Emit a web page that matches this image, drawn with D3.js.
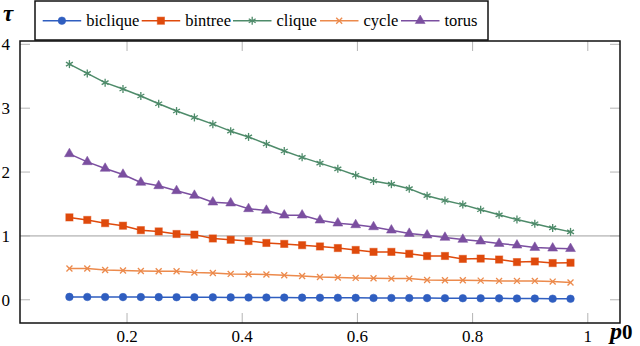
<!DOCTYPE html>
<html>
<head>
<meta charset="utf-8">
<script src="https://cdn.jsdelivr.net/npm/d3@7"></script>
<style>
  body { margin: 0; background: #fff; }
  svg { display: block; }
  svg text { font-family: "Liberation Serif", "Times New Roman", "DejaVu Serif", serif; }
</style>
</head>
<body>
<svg width="640" height="346"></svg>
<script>
// p0 values (x)
const p0 = [0.1, 0.131, 0.162, 0.193, 0.224, 0.255, 0.286, 0.317, 0.349, 0.380,
  0.411, 0.442, 0.473, 0.504, 0.535, 0.566, 0.597, 0.628, 0.659, 0.690,
  0.721, 0.752, 0.783, 0.814, 0.846, 0.877, 0.908, 0.939, 0.97]

const biclique = [0.045, 0.044, 0.043, 0.042, 0.042, 0.041, 0.040, 0.039, 0.038, 0.037,
  0.036, 0.035, 0.034, 0.033, 0.032, 0.031, 0.030, 0.029, 0.028, 0.027,
  0.026, 0.025, 0.024, 0.023, 0.022, 0.020, 0.019, 0.017, 0.016]
const bintree = [1.29, 1.25, 1.20, 1.16, 1.09, 1.07, 1.03, 1.02, 0.96, 0.94,
  0.92, 0.89, 0.875, 0.855, 0.835, 0.81, 0.78, 0.75, 0.75, 0.72,
  0.685, 0.686, 0.64, 0.645, 0.63, 0.59, 0.60, 0.575, 0.58]
const clique = [3.69, 3.545, 3.40, 3.30, 3.19, 3.07, 2.955, 2.855, 2.75, 2.64,
  2.55, 2.44, 2.33, 2.23, 2.14, 2.05, 1.95, 1.86, 1.81, 1.74,
  1.63, 1.555, 1.49, 1.41, 1.33, 1.257, 1.19, 1.125, 1.063]
const cycle = [0.489, 0.489, 0.467, 0.458, 0.451, 0.447, 0.447, 0.426, 0.42, 0.405,
  0.40, 0.395, 0.384, 0.373, 0.357, 0.348, 0.342, 0.337, 0.332, 0.332,
  0.31, 0.306, 0.306, 0.30, 0.295, 0.295, 0.295, 0.285, 0.27]
const torus = [2.285, 2.16, 2.056, 1.962, 1.837, 1.784, 1.706, 1.633, 1.528, 1.513,
  1.424, 1.398, 1.324, 1.324, 1.246, 1.199, 1.173, 1.141, 1.089, 1.037,
  1.011, 0.975, 0.944, 0.917, 0.88, 0.854, 0.818, 0.807, 0.80]

const xTicks = [0.2, 0.4, 0.6, 0.8, 1]
const yTicks = [0, 1, 2, 3, 4]
const refLine = 1

const series = [
  { name: 'biclique', values: biclique, color: '#2f5ec0', marker: 'circle' },
  { name: 'bintree', values: bintree, color: '#df4a0c', marker: 'square' },
  { name: 'clique', values: clique, color: '#4e8b6a', marker: 'asterisk' },
  { name: 'cycle', values: cycle, color: '#ec8a4c', marker: 'cross' },
  { name: 'torus', values: torus, color: '#7b4fa0', marker: 'triangle' }
]

const margin = { left: 20, right: 20, top: 41, bottom: 23 }
const width = 640
const height = 346

const svg = d3.select('svg')

// pgfplots-like enlarged limits
const x = d3.scaleLinear().domain([0.0142, 1.0559]).range([margin.left, width - margin.right])
const y = d3.scaleLinear().domain([-0.3636, 4.052]).range([height - margin.bottom, margin.top])

const plot = svg.append('g')

// reference line at tau = 1
plot.append('line')
  .attr('x1', x.range()[0]).attr('x2', x.range()[1])
  .attr('y1', y(refLine)).attr('y2', y(refLine))
  .attr('stroke', '#c8c8c8')
  .attr('stroke-width', 1.6)

// inner ticks on all four sides
const tickLen = 10
const tickColor = '#b4b4b4'
xTicks.forEach(function (t) {
  plot.append('line')
    .attr('x1', x(t)).attr('x2', x(t))
    .attr('y1', y.range()[0]).attr('y2', y.range()[0] - tickLen)
    .attr('stroke', tickColor)
  plot.append('line')
    .attr('x1', x(t)).attr('x2', x(t))
    .attr('y1', y.range()[1]).attr('y2', y.range()[1] + tickLen)
    .attr('stroke', tickColor)
  svg.append('text')
    .attr('x', x(t)).attr('y', 342)
    .attr('text-anchor', 'middle')
    .attr('font-size', 17)
    .text(t)
})
yTicks.forEach(function (t) {
  plot.append('line')
    .attr('x1', x.range()[0]).attr('x2', x.range()[0] + tickLen)
    .attr('y1', y(t)).attr('y2', y(t))
    .attr('stroke', tickColor)
  plot.append('line')
    .attr('x1', x.range()[1]).attr('x2', x.range()[1] - tickLen)
    .attr('y1', y(t)).attr('y2', y(t))
    .attr('stroke', tickColor)
  svg.append('text')
    .attr('x', 10).attr('y', y(t))
    .attr('dy', '0.34em')
    .attr('text-anchor', 'end')
    .attr('font-size', 17)
    .text(t)
})

function drawMarker (g, type, color, cx, cy) {
  const m = g.append('g').attr('transform', 'translate(' + cx + ',' + cy + ')')
  switch (type) {
    case 'circle':
      m.append('circle').attr('r', 3.8).attr('fill', color)
        .attr('stroke', color).attr('stroke-opacity', 0.5)
      break
    case 'square':
      m.append('rect').attr('x', -3.6).attr('y', -3.6).attr('width', 7.2).attr('height', 7.2)
        .attr('fill', color).attr('stroke', color).attr('stroke-opacity', 0.5)
      break
    case 'triangle':
      m.append('path').attr('d', d3.symbol(d3.symbolTriangle, 42)())
        .attr('fill', color).attr('stroke', color).attr('stroke-opacity', 0.5)
      break
    case 'asterisk':
      [0, 60, 120].forEach(function (a) {
        m.append('line').attr('x1', 0).attr('x2', 0).attr('y1', -4).attr('y2', 4)
          .attr('transform', 'rotate(' + a + ')')
          .attr('stroke', color).attr('stroke-width', 1.3)
      })
      break
    case 'cross':
      [45, 135].forEach(function (a) {
        m.append('line').attr('x1', 0).attr('x2', 0).attr('y1', -4.2).attr('y2', 4.2)
          .attr('transform', 'rotate(' + a + ')')
          .attr('stroke', color).attr('stroke-width', 1.3)
      })
      break
  }
}

const line = d3.line()
  .x(function (d) { return x(d[0]) })
  .y(function (d) { return y(d[1]) })

series.forEach(function (s) {
  const pts = p0.map(function (v, i) { return [v, s.values[i]] })
  const g = plot.append('g')
  g.append('path')
    .attr('d', line(pts))
    .attr('fill', 'none')
    .attr('stroke', s.color)
    .attr('stroke-width', 1.5)
    .attr('stroke-linejoin', 'round')
  pts.forEach(function (p) {
    drawMarker(g, s.marker, s.color, x(p[0]), y(p[1]))
  })
})

// axis frame
svg.append('rect')
  .attr('x', x.range()[0]).attr('y', y.range()[1])
  .attr('width', x.range()[1] - x.range()[0])
  .attr('height', y.range()[0] - y.range()[1])
  .attr('fill', 'none')
  .attr('stroke', '#111')
  .attr('stroke-width', 1.5)

// axis labels
svg.append('text')
  .attr('x', 3).attr('y', 21)
  .attr('font-size', 23)
  .attr('font-weight', 'bold')
  .attr('font-style', 'italic')
  .text('τ')

const xl = svg.append('text')
  .attr('x', 610).attr('y', 339)
  .attr('font-size', 24)
  .attr('font-weight', 'bold')
xl.append('tspan').attr('font-style', 'italic').text('p')
xl.append('tspan').attr('font-size', 21).text('0')

// legend
const legend = svg.append('g')
legend.append('rect')
  .attr('x', 35).attr('y', 1)
  .attr('width', 453).attr('height', 39)
  .attr('fill', '#fff')
  .attr('stroke', '#111')
  .attr('stroke-width', 1.5)

const legendX = [42.7, 141.7, 233, 320, 401]
const legendY = 20.7
series.forEach(function (s, i) {
  const lx = legendX[i]
  legend.append('line')
    .attr('x1', lx).attr('x2', lx + 38.5)
    .attr('y1', legendY).attr('y2', legendY)
    .attr('stroke', s.color).attr('stroke-width', 1.5)
  drawMarker(legend, s.marker, s.color, lx + 19.2, legendY)
  legend.append('text')
    .attr('x', lx + 43.5).attr('y', legendY)
    .attr('dy', '0.32em')
    .attr('font-size', 16.5)
    .text(s.name)
})
</script>
</body>
</html>
